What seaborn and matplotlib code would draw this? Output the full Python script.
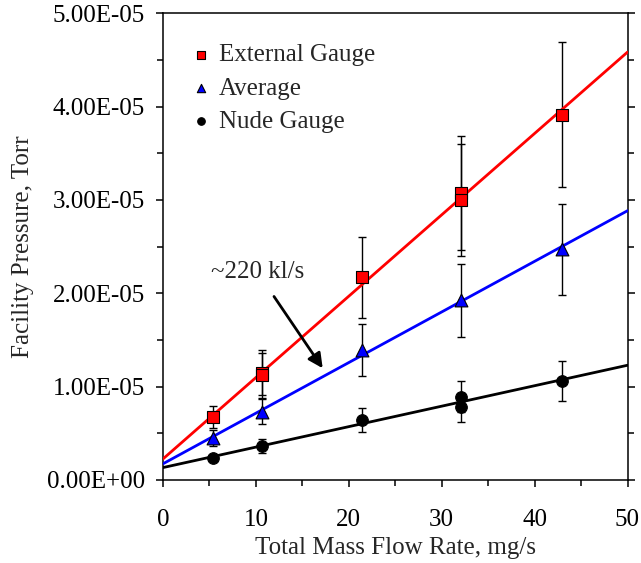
import numpy as np
import matplotlib
matplotlib.use("Agg")
import matplotlib.pyplot as plt
from matplotlib.ticker import MultipleLocator, FuncFormatter
import seaborn as sns

# mass flow rate (mg/s) and facility pressure (Torr) with error bars
ext_x = [5.35, 10.7, 10.7, 21.4, 32.1, 32.1, 42.9]
ext_y = [6.78e-6, 1.15e-5, 1.12e-5, 2.17e-5, 3.076e-5, 3.005e-5, 3.915e-5]
ext_err = [1.2e-6, 2.4e-6, 2.4e-6, 4.3e-6, 6.1e-6, 6.0e-6, 7.8e-6]

avg_x = [5.35, 10.7, 21.4, 32.1, 42.9]
avg_y = [4.47e-6, 7.32e-6, 1.39e-5, 1.927e-5, 2.47e-5]
avg_err = [0.85e-6, 1.35e-6, 2.8e-6, 3.9e-6, 4.9e-6]

nude_x = [5.35, 10.7, 21.4, 32.1, 32.1, 42.9]
nude_y = [2.32e-6, 3.64e-6, 6.42e-6, 8.92e-6, 7.78e-6, 1.06e-5]
nude_err = [0.3e-6, 0.7e-6, 1.25e-6, 1.65e-6, 1.55e-6, 2.1e-6]

sns.set_theme(style="ticks")
plt.rcParams['font.family'] = ['Liberation Serif', 'DejaVu Serif']
plt.rcParams['font.size'] = 18

fig = plt.figure(figsize=(6.41, 5.63), dpi=100)
ax = fig.add_axes([163 / 641, 83 / 563, 464.5 / 641, 466.7 / 563])
ax.set_xlim(0, 50)
ax.set_ylim(0, 5e-5)

series = [
    ("External Gauge", ext_x, ext_y, ext_err, "red", "s", 64),
    ("Average", avg_x, avg_y, avg_err, "blue", "^", 85),
    ("Nude Gauge", nude_x, nude_y, nude_err, "black", "o", 70),
]

for name, x, y, err, col, mk, size in series:
    ax.errorbar(x, y, yerr=err, fmt='none', ecolor='black', elinewidth=1,
                capsize=3, capthick=1, zorder=2)
    sns.regplot(x=x, y=y, ax=ax, scatter=False, ci=None, truncate=False,
                line_kws=dict(color=col, lw=2, zorder=3))
    sns.scatterplot(x=x, y=y, ax=ax, marker=mk, color=col, edgecolor='black',
                    linewidth=0.8, s=size, label=name, zorder=4)

ax.set_xlim(0, 50)
ax.set_ylim(0, 5e-5)

ax.annotate("~220 kl/s", xy=(17.19, 1.197e-5), xytext=(10.15, 2.23e-5),
            ha='center', va='center', fontsize=18,
            arrowprops=dict(arrowstyle='-|>', color='black', lw=2,
                            mutation_scale=22, shrinkA=9, shrinkB=0))

ax.xaxis.set_major_locator(MultipleLocator(10))
ax.xaxis.set_minor_locator(MultipleLocator(5))
ax.yaxis.set_major_locator(MultipleLocator(1e-5))
ax.yaxis.set_minor_locator(MultipleLocator(5e-6))
ax.yaxis.set_major_formatter(FuncFormatter(lambda v, p: f"{v:.2E}"))

ax.tick_params(axis='both', which='both', direction='out', width=1.1,
               colors='black', labelsize=18)
ax.tick_params(axis='both', which='major', length=5)
ax.tick_params(axis='both', which='minor', length=4)
ax.tick_params(axis='y', which='both', right=True, pad=8)
ax.tick_params(axis='x', which='both', pad=16)

for sp in ax.spines.values():
    sp.set_visible(True)
    sp.set_linewidth(1.1)
    sp.set_color('black')

ax.set_xlabel("Total Mass Flow Rate, mg/s", fontsize=18, labelpad=4)
ax.set_ylabel("Facility Pressure, Torr", fontsize=18, labelpad=9)

leg = ax.legend(loc='upper left', bbox_to_anchor=(0.018, 0.972), frameon=False,
                fontsize=18, markerscale=0.65, handletextpad=0.2,
                handlelength=1.0, labelspacing=0.43, borderpad=0.2)

fig.savefig("out.png", dpi=100)
